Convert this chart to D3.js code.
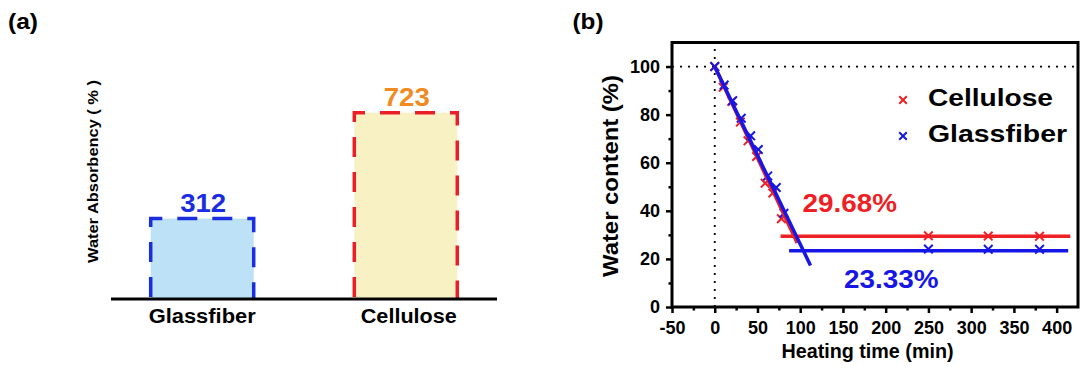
<!DOCTYPE html>
<html>
<head>
<meta charset="utf-8">
<script src="https://cdn.jsdelivr.net/npm/d3@7"></script>
<style>
  html, body { margin: 0; padding: 0; background: #fff; }
  svg { display: block; font-family: "Liberation Sans", Arial, sans-serif; font-weight: bold; }
</style>
</head>
<body>
<svg id="chart" width="1081" height="369"></svg>
<script>
// ---------- Panel (a) data ----------
const categories = ["Glassfiber", "Cellulose"];
const absorbency = [312, 723];
const barFill = ["#bde2f8", "#f8f1c4"];
const barStroke = ["#1a2ee0", "#ea1f27"];
const valueColor = ["#1a2ee0", "#f28a22"];

// ---------- Panel (b) data ----------
const seriesNames = ["Cellulose", "Glassfiber"];
const seriesColors = ["#ee1f25", "#1616e6"];
const timeCellulose = [0, 10, 20, 30, 39, 49, 59, 68, 78, 250, 320, 380];
const waterCellulose = [100, 91.4, 85.5, 76.9, 69.1, 62.6, 51.5, 47.4, 36.7, 29.6, 29.5, 29.4];
const timeGlassfiber = [0, 11, 21, 31, 42, 51, 62, 72, 81, 250, 320, 380];
const waterGlassfiber = [100, 92.3, 85.8, 78.5, 71.2, 65.5, 54.5, 49.7, 39, 24.1, 24.0, 24.0];
// fitted lines (time, water)
const fitCellulose = [[0, 100], [96.5, 26.6]];
const fitGlassfiber = [[0, 100], [112, 17.3]];
const plateauCellulose = [[77, 29.4], [416, 29.4]];
const plateauGlassfiber = [[87, 23.4], [413.5, 23.4]];
const plateauLabels = ["29.68%", "23.33%"];
const xTicksMajor = [-50, 0, 50, 100, 150, 200, 250, 300, 350, 400];
const xTicksMinor = [-25, 25, 75, 125, 175, 225, 275, 325, 375];
const yTicksMajor = [0, 20, 40, 60, 80, 100];
const yTicksMinor = [10, 30, 50, 70, 90];

const svg = d3.select("#chart");

function addText(g, o) {
  const t = g.append("text")
    .attr("font-size", o.size)
    .attr("fill", o.fill || "#000")
    .attr("text-anchor", o.anchor || "start")
    .text(o.text);
  if (o.rotate) {
    t.attr("transform", `translate(${o.x},${o.y}) rotate(${o.rotate})`);
  } else {
    t.attr("x", o.x).attr("y", o.y);
  }
  if (o.len) t.attr("textLength", o.len).attr("lengthAdjust", "spacingAndGlyphs");
  return t;
}

// ================= Panel (a) =================
const ga = svg.append("g");
addText(ga, {x: 8, y: 29, text: "(a)", size: 22, len: 30});

const xA = d3.scaleBand().domain(categories).range([111, 497])
  .paddingInner(0.494).paddingOuter(0.195);
const yA = d3.scaleLinear().domain([0, 900]).range([299, 67.1]);

const bars = ga.selectAll("g.bar").data(categories).enter().append("g");
bars.append("rect")
  .attr("x", d => xA(d))
  .attr("y", (d, i) => yA(absorbency[i]))
  .attr("width", xA.bandwidth())
  .attr("height", (d, i) => yA(0) - yA(absorbency[i]))
  .attr("fill", (d, i) => barFill[i]);
bars.append("path")
  .attr("d", (d, i) => {
    const x0 = xA(d), x1 = xA(d) + xA.bandwidth(), y0 = yA(0), y1 = yA(absorbency[i]);
    return `M${x0},${y0}V${y1}H${x1}V${y0}`;
  })
  .attr("fill", "none")
  .attr("stroke", (d, i) => barStroke[i])
  .attr("stroke-width", 3.5)
  .attr("stroke-dasharray", "20,15")
  .attr("stroke-dashoffset", -2);

// value labels
categories.forEach((c, i) => {
  addText(ga, {x: xA(c) + xA.bandwidth() / 2 + 1, y: yA(absorbency[i]) - 6.5,
    text: String(absorbency[i]), size: 26.5, fill: valueColor[i], anchor: "middle", len: 46});
});

// baseline axis
ga.append("line").attr("x1", 111).attr("x2", 497).attr("y1", yA(0)).attr("y2", yA(0))
  .attr("stroke", "#000").attr("stroke-width", 3);

// category labels
const catLen = [107, 96];
categories.forEach((c, i) => {
  addText(ga, {x: xA(c) + xA.bandwidth() / 2 + (i ? 3 : 0), y: 322.5, text: c, size: 19.5, anchor: "middle", len: catLen[i]});
});

// y title
addText(ga, {x: 98, y: 171.5, text: "Water Absorbency ( % )", size: 14.5, anchor: "middle", rotate: -90, len: 183});

// ================= Panel (b) =================
const gb = svg.append("g");
addText(gb, {x: 572.5, y: 29, text: "(b)", size: 22, len: 31});

const pLeft = 672, pRight = 1078, pTop = 42.5, pBottom = 307;
const xB = d3.scaleLinear().domain([-50, 425]).range([pLeft, pRight]);
const yB = d3.scaleLinear().domain([0, 110]).range([pBottom, pTop]);

// dotted reference lines
gb.append("line").attr("x1", xB(-50)).attr("x2", xB(425)).attr("y1", yB(100)).attr("y2", yB(100))
  .attr("stroke", "#000").attr("stroke-width", 1.8).attr("stroke-dasharray", "2,6");
gb.append("line").attr("x1", xB(0)).attr("x2", xB(0)).attr("y1", yB(0)).attr("y2", yB(110))
  .attr("stroke", "#000").attr("stroke-width", 1.8).attr("stroke-dasharray", "2,6");

const line = d3.line().x(d => xB(d[0])).y(d => yB(d[1]));

// markers
function drawMarkers(ts, ws, color) {
  const pts = ts.map((t, i) => [t, ws[i]]);
  gb.append("g").selectAll("path").data(pts).enter().append("path")
    .attr("transform", d => `translate(${xB(d[0])},${yB(d[1])})`)
    .attr("d", "M-4.3,-4.3L4.3,4.3M-4.3,4.3L4.3,-4.3")
    .attr("stroke", color).attr("stroke-width", 2).attr("fill", "none");
}
drawMarkers(timeCellulose, waterCellulose, seriesColors[0]);
drawMarkers(timeGlassfiber, waterGlassfiber, seriesColors[1]);

// fit lines
[[plateauCellulose, 0], [fitCellulose, 0], [plateauGlassfiber, 1], [fitGlassfiber, 1]].forEach(([pts, ci]) => {
  gb.append("path").attr("d", line(pts)).attr("fill", "none")
    .attr("stroke", seriesColors[ci]).attr("stroke-width", 3.5);
});

// frame
gb.append("rect").attr("x", pLeft).attr("y", pTop).attr("width", pRight - pLeft).attr("height", pBottom - pTop)
  .attr("fill", "none").attr("stroke", "#000").attr("stroke-width", 3);

// axes
function styleAxis(g) {
  g.select(".domain").remove();
  g.selectAll(".tick line").attr("stroke", "#000").attr("stroke-width", 2.5);
  g.selectAll(".tick text").attr("font-size", 18).attr("font-weight", "bold").attr("fill", "#000")
    .attr("font-family", "'Liberation Sans', Arial, sans-serif");
}
const plainFmt = d => String(d);
gb.append("g").attr("transform", `translate(0,${pBottom})`)
  .call(d3.axisBottom(xB).tickValues(xTicksMinor).tickSize(3.5).tickFormat(""))
  .call(styleAxis);
gb.append("g").attr("transform", `translate(0,${pBottom})`)
  .call(d3.axisBottom(xB).tickValues(xTicksMajor).tickSize(6).tickPadding(8).tickFormat(plainFmt))
  .call(styleAxis);
gb.append("g").attr("transform", `translate(${pLeft},0)`)
  .call(d3.axisLeft(yB).tickValues(yTicksMinor).tickSize(3.5).tickFormat(""))
  .call(styleAxis);
gb.append("g").attr("transform", `translate(${pLeft},0)`)
  .call(d3.axisLeft(yB).tickValues(yTicksMajor).tickSize(6).tickPadding(6).tickFormat(plainFmt))
  .call(styleAxis);

// axis titles
addText(gb, {x: 867.5, y: 358, text: "Heating time (min)", size: 20, anchor: "middle", len: 172});
addText(gb, {x: 618, y: 176, text: "Water content (%)", size: 22.5, anchor: "middle", rotate: -90, len: 202});

// plateau labels
addText(gb, {x: 802.5, y: 211.5, text: plateauLabels[0], size: 25.5, fill: seriesColors[0], len: 94.5});
addText(gb, {x: 844, y: 288.3, text: plateauLabels[1], size: 25.5, fill: seriesColors[1], len: 94.5});

// legend
const legY = [100, 136], legBase = [106, 141.7], legLen = [125, 139];
seriesNames.forEach((n, i) => {
  gb.append("path").attr("transform", `translate(903,${legY[i]})`)
    .attr("d", "M-3.8,-3.8L3.8,3.8M-3.8,3.8L3.8,-3.8")
    .attr("stroke", seriesColors[i]).attr("stroke-width", 2).attr("fill", "none");
  addText(gb, {x: 928, y: legBase[i], text: n, size: 23, len: legLen[i]});
});
</script>
</body>
</html>
